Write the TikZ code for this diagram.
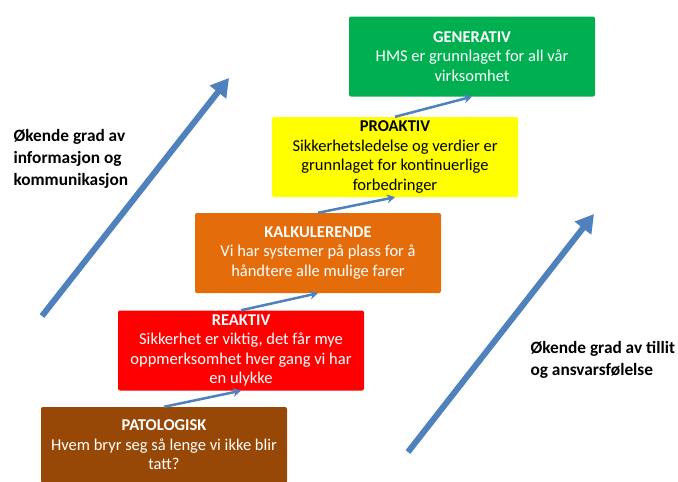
\documentclass[tikz,border=0pt]{standalone}
\usepackage{fontspec}
\setmainfont{Carlito}
\usetikzlibrary{arrows.meta}
\definecolor{cgreen}{RGB}{0,176,80}
\definecolor{cyellow}{RGB}{255,255,0}
\definecolor{corange}{RGB}{228,108,10}
\definecolor{cred}{RGB}{255,0,0}
\definecolor{cbrown}{RGB}{152,72,6}
\definecolor{cblue}{RGB}{79,129,189}
\tikzset{
  stage/.style={minimum width=246pt, minimum height=80pt, inner sep=0pt, rounded corners=2pt, align=center, font=\fontsize{16.5}{19.5}\selectfont, text=white},
  link/.style={draw=cblue, line width=2.5pt, -{Stealth[length=8pt,width=9pt]}},
  bigarrow/.style={draw=cblue, line width=6pt, -{Triangle[length=18pt,width=20pt]}},
  lbl/.style={anchor=west, align=left, font=\fontsize{17.3}{22}\selectfont\bfseries}
}
\begin{document}
\begin{tikzpicture}[x=1pt,y=-1pt]
\clip (0,0) rectangle (678,482);
\fill[white] (0,0) rectangle (678,482);
\node[stage, fill=cgreen] (gen) at (472,56.5) {\textbf{GENERATIV}\\HMS er grunnlaget for all vår\\virksomhet};
\node[stage, fill=cyellow, text=black] (pro) at (395,157) {\textbf{PROAKTIV}\\Sikkerhetsledelse og verdier er\\grunnlaget for kontinuerlige\\forbedringer};
\node[stage, fill=corange] (kal) at (318,253) {\textbf{KALKULERENDE}\\Vi har systemer på plass for å\\håndtere alle mulige farer};
\node[stage, fill=cred] (rea) at (241,350.5) {\textbf{REAKTIV}\\Sikkerhet er viktig, det får mye\\oppmerksomhet hver gang vi har\\en ulykke};
\node[stage, fill=cbrown, minimum height=76pt] (pat) at (164,445) {\textbf{PATOLOGISK}\\Hvem bryr seg så lenge vi ikke blir\\tatt?};
\draw[link] (pat.north) -- (rea.south);
\draw[link] (rea.north) -- (kal.south);
\draw[link] (kal.north) -- (pro.south);
\draw[link] (pro.north) -- (gen.south);
\coordinate (l1) at (42,316);
\coordinate (l2) at (229,78);
\coordinate (r1) at (408,452);
\coordinate (r2) at (594,214);
\draw[bigarrow] (l1) -- (l2);
\draw[bigarrow] (r1) -- (r2);
\node[lbl] (ltxt) at (10,159) {Økende grad av\\informasjon og\\kommunikasjon};
\node[lbl] (rtxt) at (527,360) {Økende grad av tillit\\og ansvarsfølelse};
\end{tikzpicture}
\end{document}
